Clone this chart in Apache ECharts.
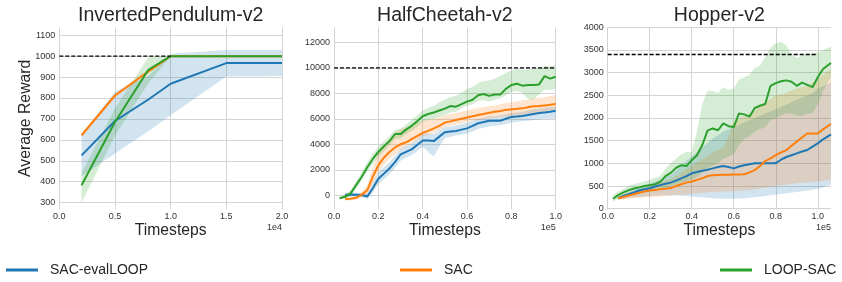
<!DOCTYPE html>
<html>
<head>
<meta charset="utf-8">
<script src="https://cdn.jsdelivr.net/npm/echarts@6/dist/echarts.min.js"></script>
<style>
  html, body { margin: 0; padding: 0; background: #fff; }
  #chart { width: 842px; height: 282px; }
</style>
</head>
<body>
<div id="chart"></div>
<script>
// ---- data ----
const seriesNames = ["SAC-evalLOOP", "SAC", "LOOP-SAC"];
const titles = ["InvertedPendulum-v2", "HalfCheetah-v2", "Hopper-v2"];

// InvertedPendulum-v2
const pendSteps = [2000, 5000, 8000, 10000, 15000, 20000];
const pendEval = [526, 690, 793, 868, 967, 967];
const pendEvalLo = [426, 535, 641, 717, 903, 905];
const pendEvalHi = [624, 830, 905, 1012, 1030, 1030];
const pendSac = [622, 812, 927, 1000, 1000, 1000];
const pendSacLo = [612, 802, 917, 996, 996, 996];
const pendSacHi = [632, 822, 937, 1004, 1004, 1004];
const pendLoop = [383, 685, 935, 1000, 1000, 1000];
const pendLoopLo = [300, 620, 870, 998, 998, 998];
const pendLoopHi = [440, 750, 995, 1002, 1002, 1002];
const pendTarget = 1000;
const pendTargetEnd = 10000;

// HalfCheetah-v2 (LOOP-SAC starts one step earlier than the other two)
const cheetahSteps = [2500, 5000, 7500, 10000, 12500, 15000, 17500, 20000, 22500, 25000,
  27500, 30000, 32500, 35000, 37500, 40000, 42500, 45000, 47500, 50000,
  52500, 55000, 57500, 60000, 62500, 65000, 67500, 70000, 72500, 75000,
  77500, 80000, 82500, 85000, 87500, 90000, 92500, 95000, 97500, 100000];
const cheetahLoop = [-230, -120, 150, 800, 1450, 2200, 2850, 3400, 3850, 4250,
  4800, 4800, 5150, 5450, 5800, 6200, 6380, 6500, 6650, 6800,
  7000, 6950, 7150, 7350, 7500, 7850, 7950, 7800, 7900, 7900,
  8350, 8650, 8750, 8600, 8650, 8650, 8700, 9350, 9150, 9300];
const cheetahLoopLo = [-330, -250, -50, 550, 1150, 1850, 2450, 3000, 3450, 3900,
  4400, 4450, 4800, 5050, 5350, 5750, 5900, 6000, 6150, 6300,
  6500, 6550, 6800, 7050, 7150, 7400, 7450, 7350, 7500, 7600,
  7850, 8100, 8200, 8000, 7550, 7500, 7900, 8300, 8250, 8400];
const cheetahLoopHi = [-130, 50, 400, 1100, 1800, 2600, 3250, 3800, 4250, 4650,
  5150, 5200, 5550, 5900, 6250, 6650, 6850, 7000, 7300, 7500,
  7700, 7800, 8050, 8350, 8500, 8800, 8950, 9000, 9150, 9350,
  9600, 9800, 9900, 9850, 9850, 9900, 9950, 10150, 10100, 10200];
const cheetahSac = [-300, -270, -200, 50, 400, 1450, 2350, 2950, 3400,
  3750, 4000, 4150, 4400, 4650, 4900, 5050, 5250, 5450, 5700,
  5800, 5900, 6000, 6100, 6200, 6300, 6380, 6480, 6550, 6620,
  6700, 6750, 6780, 6820, 6900, 6980, 7000, 7050, 7100, 7170];
const cheetahSacLo = [-420, -390, -330, -150, 100, 900, 1850, 2400, 2850,
  3200, 3600, 3800, 4050, 4350, 4650, 4750, 4900, 5100, 5350,
  5450, 5550, 5650, 5750, 5850, 5900, 5980, 6050, 6100, 6150,
  6180, 6200, 6250, 6300, 6380, 6450, 6500, 6600, 6650, 6750];
const cheetahSacHi = [-180, -150, -50, 300, 800, 2200, 3300, 3900, 4400,
  4850, 5200, 5300, 5500, 5700, 5850, 5900, 6000, 6100, 6250,
  6350, 6450, 6550, 6650, 6750, 6850, 6920, 7000, 7050, 7150,
  7250, 7300, 7350, 7450, 7500, 7600, 7650, 7700, 7780, 7850];
const cheetahEval = [30, 60, 40, 20, -100, 550, 1300, 1700, 2100,
  2600, 3200, 3400, 3600, 3950, 4300, 4300, 4250, 4600, 4950,
  5000, 5050, 5150, 5250, 5450, 5650, 5750, 5850, 5850, 5850,
  6000, 6150, 6180, 6220, 6300, 6380, 6450, 6500, 6550, 6640];
const cheetahEvalLo = [-150, -100, -120, -150, -300, 200, 900, 1250, 1650,
  2150, 2700, 2950, 3150, 3450, 3800, 3400, 3050, 3800, 4500,
  4600, 4700, 4750, 4850, 5000, 5200, 5300, 5400, 5450, 5500,
  5600, 5700, 5750, 5800, 5850, 5900, 5950, 6000, 6000, 6000];
const cheetahEvalHi = [200, 220, 200, 180, 150, 1000, 1800, 2200, 2600,
  3100, 3650, 3850, 4050, 4400, 4800, 4850, 4800, 5100, 5350,
  5400, 5500, 5600, 5700, 5850, 6000, 6100, 6200, 6200, 6250,
  6350, 6450, 6500, 6550, 6650, 6750, 6800, 6850, 6900, 6950];
const cheetahTarget = 10000;
const cheetahTargetEnd = 100000;

// Hopper-v2
const hopperSteps = [2500, 5000, 7500, 10000, 12500, 15000, 17500, 20000, 22500, 25000,
  27500, 30000, 32500, 35000, 37500, 40000, 42500, 45000, 47500, 50000,
  52500, 55000, 57500, 60000, 62500, 65000, 67500, 70000, 72500, 75000,
  77500, 80000, 82500, 85000, 87500, 90000, 92500, 95000, 97500, 100000,
  102500, 105000, 106300];
const hopperLoop = [220, 300, 360, 410, 445, 470, 500, 520, 540, 590,
  720, 790, 900, 960, 940, 1070, 1180, 1400, 1720, 1770,
  1730, 1880, 1820, 1800, 2100, 2080, 2030, 2220, 2270, 2310,
  2710, 2770, 2810, 2830, 2800, 2710, 2780, 2730, 2680, 2900,
  3080, 3170, 3210];
const hopperLoopLo = [150, 220, 270, 320, 340, 360, 380, 390, 400, 420,
  460, 500, 540, 580, 600, 650, 700, 800, 900, 950,
  1000, 1100, 1150, 1200, 1400, 1550, 1600, 1700, 1750, 1800,
  1950, 2000, 2050, 2100, 2100, 2050, 2050, 2100, 2100, 2300,
  2600, 2800, 2900];
const hopperLoopHi = [290, 380, 440, 500, 540, 570, 600, 640, 680, 720,
  880, 1000, 1100, 1200, 1250, 1250, 1700, 2300, 2600, 2600,
  2550, 2680, 2620, 2650, 2850, 2900, 2950, 3100, 3150, 3350,
  3550, 3650, 3680, 3600, 3420, 3320, 3380, 3430, 3430, 3450,
  3500, 3550, 3570];
const hopperSac = [230, 260, 290, 320, 350, 380, 400, 415, 430,
  440, 455, 500, 540, 575, 600, 635, 670, 720, 740,
  745, 750, 750, 755, 755, 760, 800, 850, 940, 1050,
  1110, 1180, 1240, 1290, 1390, 1480, 1570, 1660, 1660, 1660,
  1750, 1830, 1870];
const hopperSacLo = [200, 210, 220, 230, 240, 250, 260, 265, 270,
  280, 290, 300, 310, 320, 330, 340, 350, 360, 370,
  375, 380, 385, 390, 395, 400, 415, 430, 445, 460,
  480, 500, 515, 530, 545, 560, 570, 580, 590, 600,
  615, 630, 640];
const hopperSacHi = [260, 300, 340, 380, 420, 460, 500, 540, 580,
  620, 650, 720, 800, 880, 950, 1020, 1090, 1160, 1250,
  1300, 1350, 1600, 1900, 1980, 2050, 2100, 2150, 2250, 2350,
  2420, 2500, 2520, 2550, 2600, 2650, 2680, 2700, 2780, 2850,
  2950, 3050, 3100];
const hopperEval = [230, 280, 320, 360, 400, 430, 450, 490, 520,
  550, 575, 620, 670, 720, 780, 810, 835, 860, 890,
  920, 940, 920, 890, 930, 960, 980, 1000, 1000, 1000,
  1000, 1005, 1080, 1140, 1180, 1220, 1260, 1295, 1370, 1440,
  1530, 1600, 1640];
const hopperEvalLo = [200, 220, 240, 250, 260, 270, 280, 285, 290,
  290, 290, 290, 285, 280, 270, 260, 250, 240, 230,
  225, 220, 220, 220, 225, 230, 240, 250, 265, 280,
  295, 310, 325, 340, 355, 370, 385, 400, 420, 440,
  470, 510, 530];
const hopperEvalHi = [260, 330, 380, 430, 480, 520, 550, 600, 650,
  700, 750, 850, 950, 1050, 1150, 1250, 1350, 1450, 1550,
  1620, 1700, 1750, 1800, 1850, 1900, 1950, 2000, 2050, 2100,
  2150, 2200, 2250, 2300, 2350, 2400, 2450, 2500, 2550, 2650,
  2700, 2750, 2800];
const hopperTarget = 3400;
const hopperTargetEnd = 100000;

// tick labels
const pendYTicks = [300, 400, 500, 600, 700, 800, 900, 1000, 1100];
const cheetahYTicks = [0, 2000, 4000, 6000, 8000, 10000, 12000];
const hopperYTicks = [0, 500, 1000, 1500, 2000, 2500, 3000, 3500, 4000];
const pendXTicks = [0, 5000, 10000, 15000, 20000];
const cheetahXTicks = [0, 20000, 40000, 60000, 80000, 100000];
const hopperXTicks = [0, 20000, 40000, 60000, 80000, 100000];

// ---- chart ----
const colors = ["#1f77b4", "#ff7f0e", "#2ca02c"];
const FONT = "Liberation Sans, Arial, sans-serif";
const chart = echarts.init(document.getElementById("chart"), null, { renderer: "canvas" });

const panels = [
  {
    grid: { left: 59.3, top: 27.3, width: 222.7, height: 182 },
    x: [0, 20000], y: [268, 1138], xTicks: pendXTicks, yTicks: pendYTicks, scale: 1e4, expo: "1e4",
    runs: [
      [pendSteps, pendEval, pendEvalLo, pendEvalHi],
      [pendSteps, pendSac, pendSacLo, pendSacHi],
      [pendSteps, pendLoop, pendLoopLo, pendLoopHi]
    ],
    target: [pendTarget, pendTargetEnd]
  },
  {
    grid: { left: 334, top: 27.3, width: 221.7, height: 182 },
    x: [0, 100000], y: [-1100, 13180], xTicks: cheetahXTicks, yTicks: cheetahYTicks, scale: 1e5, expo: "1e5",
    runs: [
      [cheetahSteps.slice(1), cheetahEval, cheetahEvalLo, cheetahEvalHi],
      [cheetahSteps.slice(1), cheetahSac, cheetahSacLo, cheetahSacHi],
      [cheetahSteps, cheetahLoop, cheetahLoopLo, cheetahLoopHi]
    ],
    target: [cheetahTarget, cheetahTargetEnd]
  },
  {
    grid: { left: 607.7, top: 27.3, width: 223.3, height: 182 },
    x: [0, 106300], y: [-13, 4000], xTicks: hopperXTicks, yTicks: hopperYTicks, scale: 1e5, expo: "1e5",
    runs: [
      [hopperSteps.slice(1), hopperEval, hopperEvalLo, hopperEvalHi],
      [hopperSteps.slice(1), hopperSac, hopperSacLo, hopperSacHi],
      [hopperSteps, hopperLoop, hopperLoopLo, hopperLoopHi]
    ],
    target: [hopperTarget, hopperTargetEnd]
  }
];

const gridLine = { show: true, lineStyle: { color: "#d4d4d4", width: 1 } };
const tickText = { color: "#333", fontSize: 9, fontFamily: FONT };

const grids = [], xAxes = [], yAxes = [], series = [], graphics = [];

panels.forEach((p, k) => {
  grids.push(p.grid);
  xAxes.push({
    type: "value", gridIndex: k, min: p.x[0], max: p.x[1],
    axisLine: { show: false },
    axisTick: { show: false, customValues: p.xTicks },
    axisLabel: Object.assign({ customValues: p.xTicks, margin: 3,
      formatter: v => (v / p.scale).toFixed(1) }, tickText),
    splitLine: gridLine,
    name: "Timesteps", nameLocation: "middle", nameGap: 13, nameMoveOverlap: false,
    nameTextStyle: { fontSize: 15.7, color: "#262626", fontFamily: FONT }
  });
  yAxes.push({
    type: "value", gridIndex: k, min: p.y[0], max: p.y[1],
    axisLine: { show: false },
    axisTick: { show: false, customValues: p.yTicks },
    axisLabel: Object.assign({ customValues: p.yTicks, margin: 4,
      formatter: v => String(v) }, tickText),
    splitLine: gridLine,
    name: k === 0 ? "Average Reward" : "", nameLocation: "middle", nameGap: 26,
    nameMoveOverlap: false,
    nameTextStyle: { fontSize: 15.8, color: "#262626", fontFamily: FONT }
  });

  // shaded bands first, then the mean lines on top
  p.runs.forEach((r, i) => {
    const pts = r[0].map((s, j) => [s, r[2][j], r[3][j]]);
    series.push({
      type: "custom", xAxisIndex: k, yAxisIndex: k, silent: true, z: 1 + i * 0.1,
      data: pts, encode: { x: 0, y: [1, 2] },
      renderItem: (params, api) => {
        if (params.dataIndex !== 0) return null;
        const upper = pts.map(d => api.coord([d[0], d[2]]));
        const lower = pts.map(d => api.coord([d[0], d[1]])).reverse();
        return {
          type: "polygon",
          shape: { points: upper.concat(lower) },
          style: { fill: colors[i], opacity: 0.2 }
        };
      }
    });
  });
  p.runs.forEach((r, i) => {
    series.push({
      name: seriesNames[i], type: "line", xAxisIndex: k, yAxisIndex: k,
      color: colors[i], showSymbol: false, z: 3 + i * 0.1,
      lineStyle: { width: 2, color: colors[i] },
      data: r[0].map((s, j) => [s, r[1][j]])
    });
  });
  series.push({
    type: "line", xAxisIndex: k, yAxisIndex: k, showSymbol: false, silent: true, z: 4,
    lineStyle: { width: 1.3, color: "#000", type: [4, 2] },
    data: [[0, p.target[0]], [p.target[1], p.target[0]]]
  });

  const g = p.grid;
  graphics.push({
    type: "text", x: g.left + g.width / 2, y: 16,
    style: { text: titles[k], font: "19.5px " + FONT, fill: "#262626",
      textAlign: "center", textVerticalAlign: "middle" }
  });
  graphics.push({
    type: "text", x: g.left + g.width, y: 228,
    style: { text: p.expo, font: "9px " + FONT, fill: "#333",
      textAlign: "right", textVerticalAlign: "middle" }
  });
});

const legendPos = [6, 400, 720];
const legends = seriesNames.map((n, i) => ({
  data: [n], left: legendPos[i], top: 263, padding: 0,
  icon: "rect", itemWidth: 32, itemHeight: 3,
  selectedMode: false,
  textStyle: { fontSize: 14, color: "#262626", fontFamily: FONT, padding: [0, 0, 0, 7] }
}));

chart.setOption({
  animation: false,
  backgroundColor: "#fff",
  grid: grids,
  xAxis: xAxes,
  yAxis: yAxes,
  legend: legends,
  series: series,
  graphic: graphics
});
</script>
</body>
</html>
